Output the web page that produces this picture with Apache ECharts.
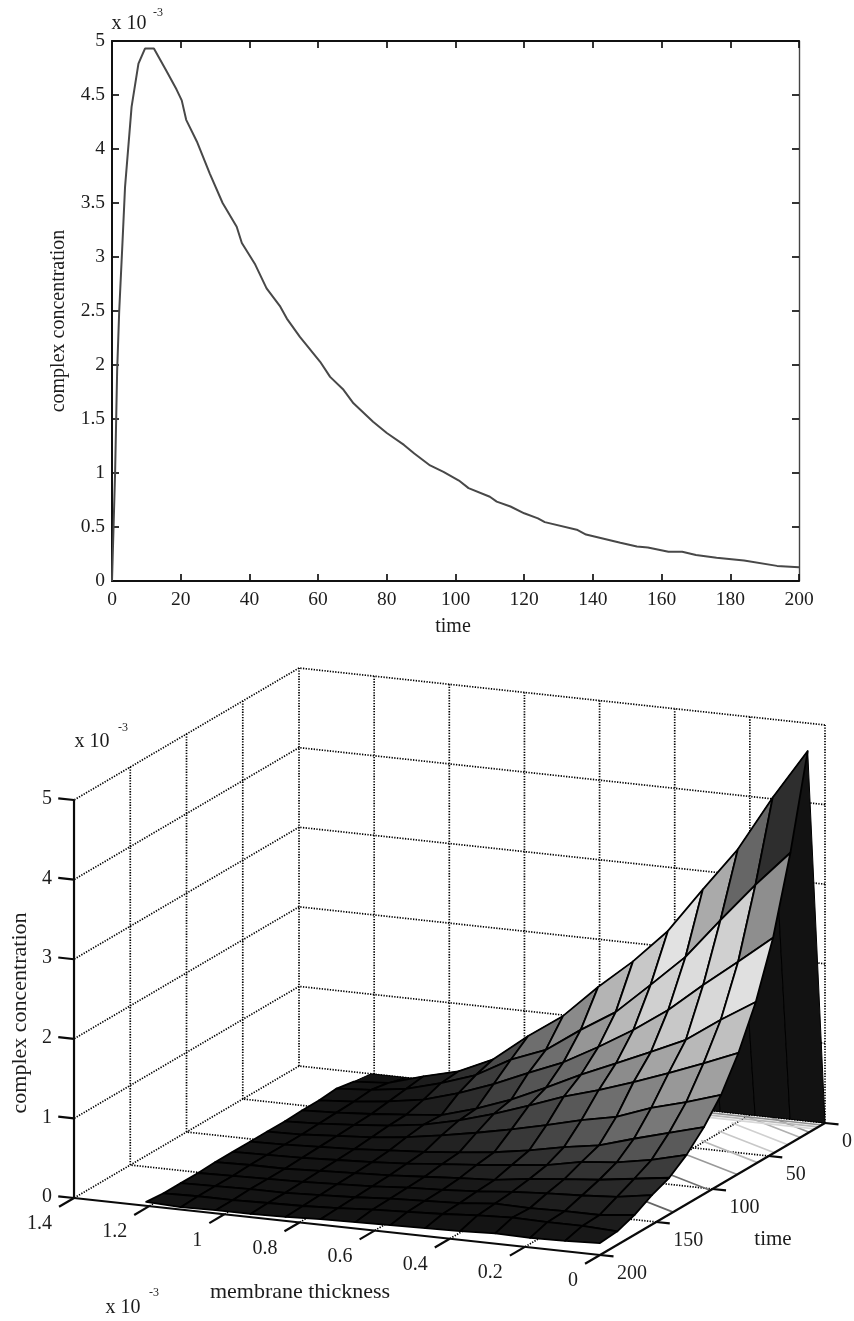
<!DOCTYPE html>
<html>
<head>
<meta charset="utf-8">
<style>html,body{margin:0;padding:0;background:#fff}#c{width:854px;height:1321px}</style>
<script src="https://cdn.jsdelivr.net/npm/echarts@6/dist/echarts.min.js"></script>
</head>
<body>
<div id="c"></div>
<script>
// ---- top chart values ----
const curveTime = [0,0.9,1.5,2.1,3,3.8,5.7,7.7,9.6,12.2,15.9,18.8,20.3,21.6,24.7,28.5,32.2,36.3,37.8,41.7,45,49,50.9,54.7,60.6,63.5,67.4,70.3,76,80,85,88,92.6,96.5,101,103.8,110,112,116,120,124,126,135.3,138,148,152.8,156,162,166,170,176,184,193.6,200];
const curveConc = [0,1,1.95,2.5,3.1,3.65,4.39,4.79,4.93,4.93,4.72,4.55,4.45,4.27,4.07,3.77,3.5,3.28,3.13,2.93,2.71,2.54,2.43,2.26,2.03,1.89,1.77,1.645,1.475,1.37,1.26,1.18,1.07,1.01,0.93,0.86,0.78,0.735,0.69,0.627,0.58,0.545,0.475,0.43,0.355,0.32,0.31,0.27,0.27,0.24,0.216,0.19,0.14,0.127];

// ---- bottom surface values ----
const surfaceTimes = [0,15.38,30.77,46.15,61.54,76.92,92.31,107.69,123.08,138.46,153.85,169.23,184.62,200];
const surfaceThickness = [0,0.093,0.186,0.279,0.372,0.465,0.558,0.651,0.744,0.837,0.93,1.023,1.116,1.208];
const surfaceConc = [
 [0,0,0,0,0,0,0,0,0,0,0,0,0,0],
 [4.80,4.17,3.47,2.92,2.35,1.92,1.55,1.14,.84,.50,.30,.19,.06,.03],
 [3.65,3.20,2.71,2.20,1.80,1.41,1.14,.84,.67,.43,.28,.16,.10,.07],
 [2.71,2.36,2.02,1.66,1.36,1.10,.86,.68,.49,.33,.20,.13,.08,.05],
 [2.03,1.76,1.46,1.26,1.07,.88,.67,.47,.31,.18,.14,.10,.07,.05],
 [1.52,1.34,1.17,1.01,.86,.73,.57,.42,.29,.19,.13,.09,.06,.04],
 [1.12,.98,.86,.70,.61,.50,.40,.31,.23,.16,.11,.08,.05,.04],
 [.84,.72,.60,.47,.40,.31,.24,.19,.15,.12,.09,.07,.05,.04],
 [.62,.51,.43,.39,.30,.255,.21,.17,.13,.10,.08,.06,.05,.04],
 [.46,.40,.34,.30,.255,.195,.17,.14,.11,.09,.07,.05,.05,.04],
 [.37,.30,.27,.25,.22,.18,.15,.13,.10,.08,.06,.05,.04,.03],
 [.25,.20,.20,.19,.20,.16,.14,.12,.09,.07,.05,.05,.04,.03],
 [.17,.19,.19,.20,.18,.15,.13,.11,.08,.06,.05,.04,.04,.03],
 [.15,.13,.12,.13,.11,.10,.09,.08,.07,.05,.04,.04,.03,.05]
];
// grey level of each surface cell (hex, one row per time interval)
const cellGrey = [
 [0x12,0x12,0x12,0x12,0x12,0x12,0x12,0x12,0x12,0x12,0x12,0x12,0x12],
 [0x2e,0x66,0xaa,0xe2,0xc8,0xb4,0x8a,0x6e,0x4a,0x2e,0x1c,0x16,0x14],
 [0x8e,0xd0,0xdc,0xd0,0xb8,0x96,0x6e,0x5a,0x3c,0x26,0x18,0x15,0x14],
 [0xe0,0xd8,0xc8,0xb4,0x8e,0x6a,0x55,0x40,0x2c,0x1e,0x16,0x14,0x14],
 [0xc0,0xb8,0xa4,0x8c,0x74,0x5c,0x48,0x32,0x24,0x1a,0x16,0x14,0x14],
 [0xa0,0x98,0x84,0x6e,0x58,0x46,0x36,0x2a,0x20,0x18,0x15,0x14,0x14],
 [0x80,0x78,0x68,0x56,0x46,0x38,0x2c,0x22,0x1a,0x16,0x14,0x14,0x14],
 [0x5a,0x54,0x48,0x3c,0x30,0x28,0x20,0x1a,0x16,0x14,0x14,0x14,0x14],
 [0x3c,0x38,0x32,0x2c,0x26,0x20,0x1c,0x18,0x14,0x14,0x14,0x14,0x14],
 [0x2a,0x28,0x24,0x20,0x1c,0x18,0x16,0x15,0x14,0x14,0x14,0x14,0x14],
 [0x22,0x20,0x1e,0x1a,0x18,0x16,0x15,0x14,0x14,0x14,0x14,0x14,0x14],
 [0x1c,0x1a,0x18,0x16,0x14,0x14,0x14,0x14,0x14,0x14,0x14,0x14,0x14],
 [0x18,0x16,0x15,0x14,0x14,0x14,0x14,0x14,0x14,0x14,0x14,0x14,0x14]
];
// thin strokes seen between the surface edge and the time axis
const edgeStrokeTimes = [135,102,78,60,45,33,22,14,9,6,3];
const edgeStrokeGrey  = [0x66,0x70,0x99,0xb8,0xc8,0xd0,0xb0,0x90,0xd8,0xb8,0x90];

// ---- axis ticks ----
const concTicks3d = [0,1,2,3,4,5];
const thicknessTicks = [1.4,1.2,1,0.8,0.6,0.4,0.2,0];
const timeTicks3d = [0,50,100,150,200];

// ---- projection of the 3D box on the page plane ----
const P = {ox:825, oy:1123, tx:-1.125, ty:0.66, dx:-375.7, dy:-40.7, zy:-79.6};
function project(t,d,z){ return [P.ox+P.tx*t+P.dx*d, P.oy+P.ty*t+P.dy*d+P.zy*z]; }

const FONT = '"Liberation Serif","Times New Roman",serif';
const INK = '#1c1c1c';

// build segment lists
const dotted = [];
concTicks3d.forEach(z=>{ if(z>0){ dotted.push([0,1.4,z,200,1.4,z]); dotted.push([0,0,z,0,1.4,z]); } });
dotted.push([0,1.4,0,200,1.4,0]); dotted.push([0,0,0,0,1.4,0]);
thicknessTicks.forEach(d=>{ dotted.push([0,d,0,0,d,5]); if(d>0&&d<1.4) dotted.push([0,d,0,200,d,0]); });
timeTicks3d.forEach(t=>{ if(t>0&&t<200){ dotted.push([t,1.4,0,t,1.4,5]); dotted.push([t,0,0,t,1.4,0]); } });

const solid = [[200,1.4,0,200,1.4,5],[200,1.4,0,200,0,0],[200,0,0,0,0,0]];
concTicks3d.forEach(z=>solid.push([200,1.4,z,200,1.442,z]));
thicknessTicks.forEach(d=>solid.push([200,d,0,213.3,d,0]));
timeTicks3d.forEach(t=>solid.push([t,0,0,t,-0.036,0]));

const edgeSegs = edgeStrokeTimes.map((t,k)=> k<8 ? [t,0,0,t,0.15,0.2,edgeStrokeGrey[k]] : [t,0,0,t,0.32,0,edgeStrokeGrey[k]]);

const cells=[];
for(let i=0;i<cellGrey.length;i++) for(let j=cellGrey[i].length-1;j>=0;j--) cells.push([i,j]);

function grey(v){return 'rgb('+v+','+v+','+v+')';}
function segSeries(list,width,dash,color,z){
  return {type:'custom',xAxisIndex:2,yAxisIndex:2,silent:true,z:z,clip:false,
    data:list.map((s,k)=>[k,0]),encode:{x:0,y:1},
    renderItem:function(params,api){
      const s=list[params.dataIndex];
      const p1=api.coord(project(s[0],s[1],s[2])),p2=api.coord(project(s[3],s[4],s[5]));
      return {type:'line',shape:{x1:p1[0],y1:p1[1],x2:p2[0],y2:p2[1]},
        style:{stroke:s[6]!==undefined?grey(s[6]):color,lineWidth:width,lineDash:dash,fill:null}};
    }};
}
function textSeries(list,z){
  // list: [label, t, d, z, offsetX, offsetY, align]
  return {type:'custom',xAxisIndex:2,yAxisIndex:2,silent:true,z:z,clip:false,
    data:list.map((s,k)=>[k,0]),encode:{x:0,y:1},
    renderItem:function(params,api){
      const s=list[params.dataIndex];
      const p=api.coord(project(s[1],s[2],s[3]));
      return {type:'text',style:{text:s[0],x:p[0]+s[4],y:p[1]+s[5],align:s[6],verticalAlign:'middle',
        font:'20px '+FONT,fill:INK}};
    }};
}

const labels3d=[];
concTicks3d.forEach(z=>labels3d.push([String(z),200,1.4,z,-22,-1,'right']));
thicknessTicks.forEach(d=>labels3d.push([String(d),200,d,0,-22,26,'right']));
timeTicks3d.forEach(t=>labels3d.push([String(t),t,0,0,17,19,'left']));

const chart=echarts.init(document.getElementById('c'),null,{renderer:'canvas'});
const txt=(text,x,y,size,rot)=>({type:'text',x:x,y:y,rotation:rot?Math.PI/2:0,silent:true,z:30,
  style:{text:text,x:0,y:0,align:'center',verticalAlign:'middle',font:size+'px '+FONT,fill:INK}});

chart.setOption({
  animation:false,
  backgroundColor:'#fff',
  grid:[
    {left:112,top:41,width:687,height:540},
    {left:0,top:0,width:854,height:1321,show:false}
  ],
  xAxis:[
    {gridIndex:0,type:'value',min:0,max:200,interval:20,position:'bottom',
     axisLine:{show:true,lineStyle:{color:'#111',width:2}},
     axisTick:{show:true,inside:true,length:7,lineStyle:{color:'#111',width:1.7}},
     axisLabel:{color:INK,fontFamily:FONT,fontSize:19.5,margin:9},
     splitLine:{show:false}},
    {gridIndex:0,type:'value',min:0,max:200,interval:20,position:'top',
     axisLine:{show:true,onZero:false,lineStyle:{color:'#111',width:2}},
     axisTick:{show:true,inside:true,length:7,lineStyle:{color:'#111',width:1.7}},
     axisLabel:{show:false},splitLine:{show:false}},
    {gridIndex:1,type:'value',min:0,max:854,show:false}
  ],
  yAxis:[
    {gridIndex:0,type:'value',min:0,max:5,interval:0.5,position:'left',
     axisLine:{show:true,lineStyle:{color:'#111',width:2}},
     axisTick:{show:true,inside:true,length:7,lineStyle:{color:'#111',width:1.7}},
     axisLabel:{color:INK,fontFamily:FONT,fontSize:19.5,margin:7},
     splitLine:{show:false}},
    {gridIndex:0,type:'value',min:0,max:5,interval:0.5,position:'right',
     axisLine:{show:true,onZero:false,lineStyle:{color:'#444',width:1.4}},
     axisTick:{show:true,inside:true,length:7,lineStyle:{color:'#111',width:1.7}},
     axisLabel:{show:false},splitLine:{show:false}},
    {gridIndex:1,type:'value',min:0,max:1321,inverse:true,show:false}
  ],
  series:[
    {type:'line',xAxisIndex:0,yAxisIndex:0,showSymbol:false,smooth:false,silent:true,
     data:curveTime.map((t,k)=>[t,curveConc[k]]),
     lineStyle:{color:'#484848',width:2},z:5},
    segSeries(dotted,1.7,[1.3,1.4],'#000',2),
    segSeries(edgeSegs,1.7,null,'#888',3),
    {type:'custom',xAxisIndex:2,yAxisIndex:2,silent:true,z:4,clip:false,
     data:cells,encode:{x:0,y:1},
     renderItem:function(params,api){
       const c=cells[params.dataIndex],i=c[0],j=c[1];
       const corner=(a,b)=>api.coord(project(surfaceTimes[a],surfaceThickness[b],surfaceConc[a][b]));
       return {type:'polygon',shape:{points:[corner(i,j),corner(i+1,j),corner(i+1,j+1),corner(i,j+1)]},
         style:{fill:grey(cellGrey[i][j]),stroke:'#000',lineWidth:i===0?1:1.8,lineJoin:'round'}};
     }},
    segSeries(solid,2.2,null,'#0a0a0a',6),
    textSeries(labels3d,7)
  ],
  graphic:[
    txt('x 10',129,24,20),txt('-3',158,13,12),
    txt('time',453,627,20),
    txt('complex concentration',59,321,20,true),
    txt('x 10',92,742,20),txt('-3',123,728,12),
    txt('complex concentration',20,1013,22,true),
    txt('membrane thickness',300,1292,22),
    txt('time',773,1239,21),
    txt('x 10',123,1308,20),txt('-3',154,1293,12)
  ]
});
</script>
</body>
</html>
